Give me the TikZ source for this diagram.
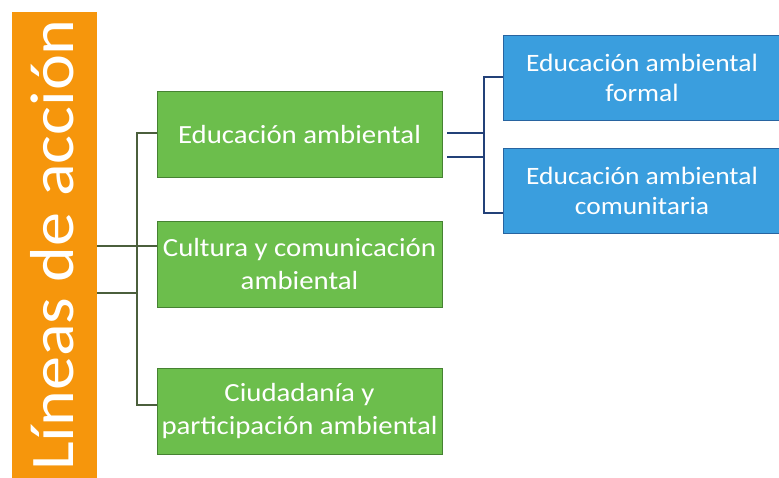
\documentclass[tikz,border=0pt]{standalone}
\usepackage{fontspec}
\setmainfont{Carlito}[FakeStretch=1.1]
\definecolor{orfill}{RGB}{246,150,12}
\definecolor{gfill}{RGB}{108,190,76}
\definecolor{gborder}{RGB}{70,130,50}
\definecolor{bfill}{RGB}{58,158,222}
\definecolor{bborder}{RGB}{40,100,160}
\definecolor{glinec}{RGB}{75,95,60}
\definecolor{blinec}{RGB}{35,65,120}
\begin{document}
\begin{tikzpicture}[x=1pt,y=-1pt,
  barbox/.style={fill=orfill, draw=none, minimum width=85pt, minimum height=470pt, inner sep=0pt},
  bartext/.style={text=white, font=\fontsize{62}{66}\selectfont, inner sep=0pt},
  gbox/.style={draw=gborder, fill=gfill, line width=0.8pt, minimum width=285pt, minimum height=86pt,
    text=white, font=\fontsize{26.2}{33}\selectfont, align=center, inner sep=0pt},
  bbox/.style={draw=bborder, fill=bfill, line width=0.8pt, minimum width=278pt, minimum height=85pt,
    text=white, font=\fontsize{25}{30}\selectfont, align=center, inner sep=0pt},
  gline/.style={draw=glinec, line width=1.3pt},
  bline/.style={draw=blinec, line width=1.3pt}]
\useasboundingbox (0,0) rectangle (779,477);
\fill[white] (0,0) rectangle (779,477);

\node[barbox] (bar) at (54.5,247) {};
\node[bartext, rotate=90, anchor=base] (bt) at (73,245) {Líneas de acción};

\node[gbox] (g1) at (299.5,134.5) {Educación ambiental};
\node[gbox] (g2) at (299.5,264) {Cultura y comunicación\\ambiental};
\node[gbox] (g3) at (299.5,411.5) {Ciudadanía y\\participación ambiental};

\node[bbox] (b1) at (642,77.5) {Educación ambiental\\formal};
\node[bbox] (b2) at (642,190.5) {Educación ambiental\\comunitaria};

% left connectors
\coordinate (lj1) at (137,246);
\coordinate (lj2) at (137,293);
\coordinate (lt) at (137,133);
\coordinate (lb) at (137,405);
\draw[gline] (bar.east |- lj1) -- (lj1);
\draw[gline] (bar.east |- lj2) -- (lj2);
\draw[gline] (g1.west |- lt) -- (lt) -- (lb) -- (g3.west |- lb);
\draw[gline] (lj1) -- (g2.west |- lj1);

% right connectors
\coordinate (r1) at (484,133);
\coordinate (r2) at (484,157);
\coordinate (rt) at (484,77);
\coordinate (rb) at (484,213);
\draw[bline] (g1.east |- r1) ++(5,0) -- (r1);
\draw[bline] (g1.east |- r2) ++(5,0) -- (r2);
\draw[bline] (b1.west |- rt) -- (rt) -- (rb) -- (b2.west |- rb);
\end{tikzpicture}
\end{document}
